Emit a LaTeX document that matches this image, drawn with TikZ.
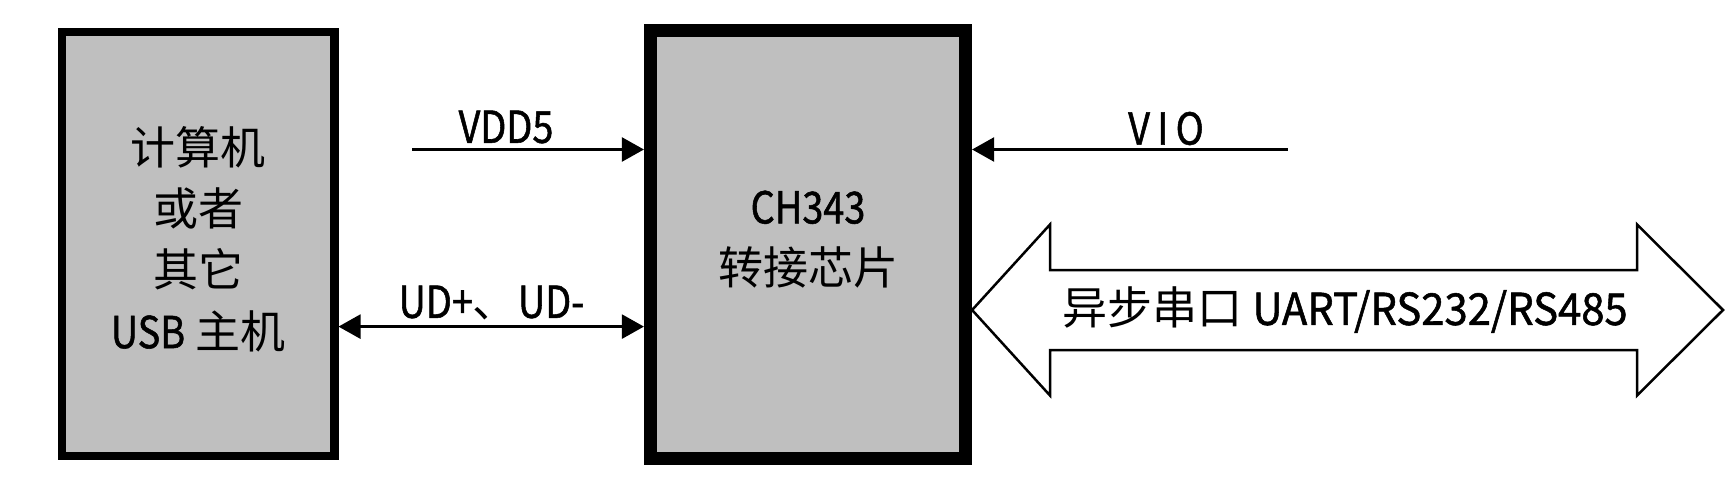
\documentclass[tikz,border=0pt]{standalone}
\usepackage{fontspec}
\setmainfont{Noto Sans CJK SC}
\newfontfamily\latn{Noto Sans CJK SC}[FakeStretch=0.86,FakeBold=1.2]
\newfontfamily\latnw{Noto Sans CJK SC}[FakeStretch=0.95,FakeBold=1.2]
\usetikzlibrary{arrows.meta}
\definecolor{boxgray}{RGB}{191,191,191}
\newcommand\lt[1]{{\latn\fontsize{44}{44}\selectfont #1}}
\newcommand\ltw[1]{{\latnw\fontsize{44}{44}\selectfont #1}}
\tikzset{
  hostbox/.style={draw, fill=boxgray, line width=8.5pt, minimum width=272.5pt, minimum height=424pt, inner sep=0pt},
  chipbox/.style={draw, fill=boxgray, line width=12.7pt, minimum width=315.5pt, minimum height=428pt, inner sep=0pt},
  txt/.style={font=\fontsize{45}{61.3}\selectfont, align=center, inner sep=0pt},
  conn/.style={line width=2.5pt},
  mytip/.tip={Triangle[length=22pt,width=24pt]},
  bigarrow/.style={draw, line width=2.5pt, fill=white, miter limit=20}
}
\begin{document}
\begin{tikzpicture}[x=1pt,y=-1pt]
\useasboundingbox (0,0) rectangle (1736,503);
\node[hostbox] (host) at (198,244) {};
\node[chipbox] (chip) at (808,244.6) {};
\node[txt] (hostlbl) at (198,239) {计算机\\或者\\其它\\\lt{USB} 主机};
\node[txt] (chiplbl) at (808,239.5) {\lt{CH343}\\转接芯片};
% VDD5
\coordinate (vddstart) at (412,149.5);
\draw[conn,-{mytip}] (vddstart) -- (vddstart -| chip.west);
\node[txt] (vddlbl) at (506,127) {\lt{VDD5}};
% UD
\coordinate (udy) at (0,326.6);
\draw[conn,{mytip}-{mytip}] (udy -| host.east) -- (udy -| chip.west);
\node[txt] (udlbl) at (491.5,303) {\lt{UD+}、\lt{UD-}};
% VIO
\coordinate (viostart) at (1287.6,149.5);
\draw[conn,-{mytip}] (viostart) -- (viostart -| chip.east);
\node[txt] (violbl) at (1166,128.5) {\lt{V\,I\,O}};
% big double arrow
\path[bigarrow] (chip.east |- 0,310) -- (1050,224.5) -- (1050,270) -- (1637,270) -- (1637,224.5)
  -- (1723,310) -- (1637,395.5) -- (1637,350) -- (1050,350) -- (1050,395.5) -- cycle;
\node[txt] (uartlbl) at (1345,310) {异步串口 \ltw{UART/RS232/RS485}};
\end{tikzpicture}
\end{document}
